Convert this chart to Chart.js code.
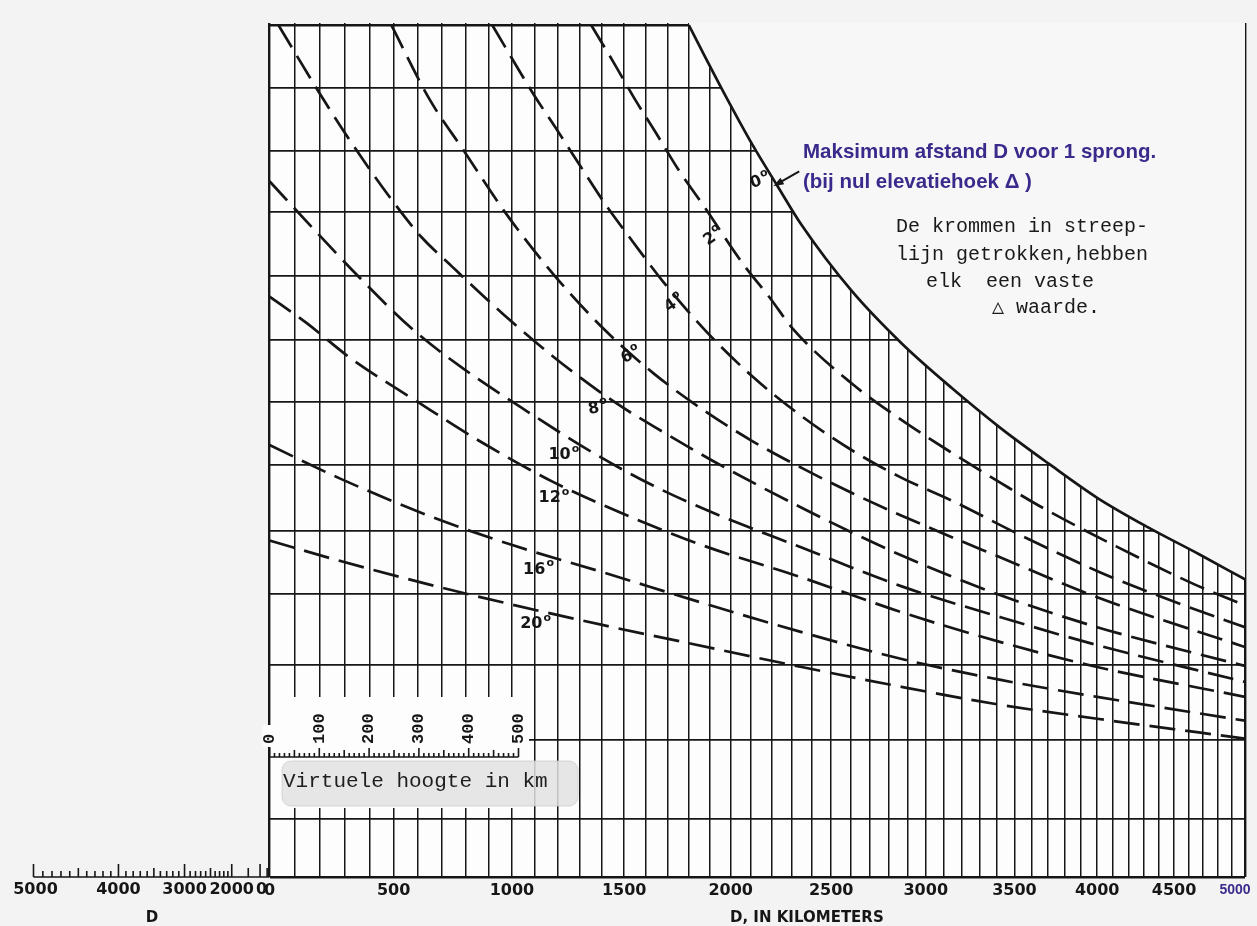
<!DOCTYPE html>
<html>
<head>
<meta charset="utf-8">
<title>Elevatiehoek - afstand - virtuele hoogte</title>
<script src="https://cdn.jsdelivr.net/npm/chart.js@4/dist/chart.umd.min.js"></script>
<style>
  html, body { margin: 0; padding: 0; background: #f3f3f3; }
  #wrap { position: relative; width: 1257px; height: 926px; }
</style>
</head>
<body>
<div id="wrap"><canvas id="chart"></canvas></div>
<script>
// ---- axes ----
const distTicks = [];               // vertical grid, every 100 km
for (let d = 0; d <= 5000; d += 100) distTicks.push(d);
const distLabels = [0, 500, 1000, 1500, 2000, 2500, 3000, 3500, 4000, 4500, 5000];
const heightGrid = [0, 116, 276, 426, 568, 696, 828, 954, 1080, 1208, 1336, 1460, 1586, 1712];
const rulerKm = [0, 100, 200, 300, 400, 500];
const bulgeKm = [0, 2000, 3000, 4000, 5000];

// ---- curves: distance D (km) and height on the chart ----
const dist0 = [1800, 1870, 1985, 2105, 2230, 2350, 2605, 2870, 3145, 3420, 3705, 4000, 4330, 4675, 5000];
const h0    = [1712, 1654, 1562, 1472, 1388, 1310, 1178, 1072, 982, 902, 830, 762, 702, 648, 598];

const dist2 = [1350, 1450, 1550, 1645, 1750, 1875, 2060, 2195, 2305, 2605, 2870, 3145, 3420, 3645, 4110, 4640, 5000];
const h2    = [1712, 1638, 1562, 1496, 1422, 1346, 1232, 1162, 1102, 992, 918, 852, 792, 746, 666, 588, 546];

const dist4 = [915, 1090, 1205, 1305, 1420, 1530, 1680, 1870, 2105, 2350, 2605, 2870, 3145, 3540, 4020, 4565, 5000];
const h4    = [1712, 1576, 1496, 1426, 1348, 1282, 1196, 1102, 1006, 926, 858, 802, 756, 686, 612, 546, 502];

const dist6 = [490, 650, 790, 970, 1180, 1405, 1635, 1870, 2105, 2350, 2605, 2870, 3420, 4000, 5000];
const h6    = [1712, 1562, 1462, 1336, 1212, 1102, 1012, 938, 876, 822, 772, 726, 642, 562, 462];

const dist8 = [35, 195, 305, 475, 615, 745, 960, 1180, 1450, 1680, 1915, 2350, 2870, 3420, 4000, 5000];
const h8    = [1712, 1578, 1492, 1372, 1286, 1226, 1132, 1046, 956, 894, 836, 742, 646, 566, 502, 424];

const dist10 = [0, 175, 365, 575, 790, 1045, 1360, 1635, 1915, 2350, 2870, 3420, 4000, 5000];
const h10    = [1398, 1302, 1202, 1102, 1022, 942, 852, 786, 732, 662, 584, 522, 466, 392];

const dist12 = [0, 145, 325, 595, 875, 1180, 1495, 1855, 2350, 2870, 3420, 4000, 5000];
const h12    = [1166, 1114, 1042, 956, 872, 794, 730, 668, 602, 532, 472, 422, 362];

const dist16 = [0, 275, 645, 995, 1405, 1870, 2350, 2870, 3420, 4000, 5000];
const h16    = [868, 802, 726, 668, 612, 550, 492, 438, 396, 362, 314];

const dist20 = [0, 275, 645, 995, 1405, 1775, 2350, 2870, 3420, 4000, 5000];
const h20    = [676, 636, 588, 548, 506, 472, 422, 382, 346, 318, 278];

// angle labels, placed in chart units
const angleNotes = [
  { t: '0', d: 2141, h: 1398, rot: -20 },
  { t: '2', d: 1915, h: 1286, rot: -35 },
  { t: '4', d: 1729, h: 1152, rot: -35 },
  { t: '6', d: 1528, h: 1048, rot: -25 },
  { t: '8', d: 1379, h: 942, rot: -10 },
  { t: '10', d: 1226, h: 848, rot: 0 },
  { t: '12', d: 1182, h: 762, rot: 0 },
  { t: '16', d: 1114, h: 618, rot: 0 },
  { t: '20', d: 1101, h: 508, rot: 0 }
];

const PAGE_BG = '#f3f3f3';
const INK = '#161616';
const PURPLE = '#3b2a8c';

// distance axis is compressed towards the far end of the chart
const WARP_A = 1.29, WARP_B = 0.3;
class WarpScale extends Chart.LinearScale {
  toFrac(v) {
    const t = (v - this.min) / (this.max - this.min);
    return t * (WARP_A - WARP_B * t) / (WARP_A - WARP_B);
  }
  fromFrac(f) {
    const t = (WARP_A - Math.sqrt(WARP_A * WARP_A - 4 * WARP_B * (WARP_A - WARP_B) * f)) / (2 * WARP_B);
    return this.min + t * (this.max - this.min);
  }
  getPixelForValue(v) {
    return v === null ? NaN : this.getPixelForDecimal(this.toFrac(v));
  }
  getValueForPixel(p) {
    return this.fromFrac(this.getDecimalForPixel(p));
  }
}
WarpScale.id = 'warp';
WarpScale.defaults = Chart.LinearScale.defaults;
Chart.register(WarpScale);

function curve(label, d, h, solid) {
  return {
    label: label,
    data: d.map((x, i) => ({ x: x, y: h[i] })),
    borderColor: INK,
    borderWidth: 2.7,
    borderDash: solid ? [] : [26, 10],
    pointRadius: 0,
    cubicInterpolationMode: 'monotone',
    fill: solid ? 'end' : false,
    backgroundColor: solid ? '#f7f7f7' : 'transparent'
  };
}

function degLabel(ctx, txt, x, y, rot) {
  ctx.save();
  ctx.translate(x, y);
  ctx.rotate(rot * Math.PI / 180);
  ctx.font = 'bold 16px "DejaVu Sans"';
  const w = ctx.measureText(txt).width;
  ctx.font = 'bold 11px "DejaVu Sans"';
  const w2 = ctx.measureText('o').width;
  const x0 = -(w + w2) / 2;
  ctx.fillStyle = INK;
  ctx.textBaseline = 'middle';
  ctx.textAlign = 'left';
  ctx.font = 'bold 16px "DejaVu Sans"';
  ctx.fillText(txt, x0, 0);
  ctx.font = 'bold 11px "DejaVu Sans"';
  ctx.fillText('o', x0 + w + 1, -6);
  ctx.restore();
}

const decor = {
  id: 'decor',
  beforeDraw(chart) {
    const { ctx, chartArea: a } = chart;
    const top = chart.scales.y.getPixelForValue(heightGrid[heightGrid.length - 1]);
    ctx.save();
    ctx.fillStyle = PAGE_BG;
    ctx.fillRect(0, 0, chart.width, chart.height);
    ctx.fillStyle = '#fdfdfd';
    ctx.fillRect(a.left, top, a.right - a.left, a.bottom - top);
    ctx.restore();
  },
  afterDatasetsDraw(chart) {
    const { ctx, chartArea: a } = chart;
    const xs = chart.scales.x, ys = chart.scales.y;
    const left = xs.getPixelForValue(0);
    const base = a.bottom;
    ctx.save();

    // --- virtual height ruler box ---
    const rx = left + 1.5, kmPx = 0.498, rBase = 757;
    ctx.fillStyle = '#fdfdfd';
    ctx.fillRect(rx, 697, 258, 111);
    ctx.fillStyle = 'rgba(226,226,226,0.85)';
    ctx.strokeStyle = 'rgba(200,200,200,0.7)';
    ctx.lineWidth = 1;
    ctx.beginPath();
    ctx.roundRect(282, 761, 296, 45, 9);
    ctx.fill();
    ctx.stroke();
    ctx.fillStyle = '#fdfdfd';
    ctx.fillRect(left - 7, 725, 16, 22);

    ctx.strokeStyle = INK;
    ctx.lineWidth = 1.6;
    ctx.beginPath();
    ctx.moveTo(left, rBase);
    ctx.lineTo(left + 500 * kmPx, rBase);
    for (let k = 0; k <= 500; k += 10) {
      const x = left + k * kmPx;
      const len = k % 100 === 0 ? 9 : (k % 50 === 0 ? 7 : 4);
      ctx.moveTo(x, rBase);
      ctx.lineTo(x, rBase - len);
    }
    ctx.stroke();
    ctx.fillStyle = INK;
    ctx.font = 'bold 17px "Liberation Mono", "DejaVu Sans Mono", monospace';
    ctx.textAlign = 'left';
    ctx.textBaseline = 'middle';
    rulerKm.forEach(k => {
      ctx.save();
      ctx.translate(left + k * kmPx, 744);
      ctx.rotate(-Math.PI / 2);
      ctx.fillText(String(k), 0, 0);
      ctx.restore();
    });
    ctx.font = '21px "Liberation Mono", "DejaVu Sans Mono", monospace';
    ctx.fillStyle = '#1e1e1e';
    ctx.fillText('Virtuele hoogte in km', 283, 781);

    // --- earth bulge scale at lower left ---
    const bulgeSpan = 236;
    const bx = d => left - bulgeSpan * (d / 5000) * (d / 5000);
    ctx.strokeStyle = INK;
    ctx.lineWidth = 1.6;
    ctx.beginPath();
    ctx.moveTo(bx(5000), base);
    ctx.lineTo(left, base);
    for (let d = 500; d <= 5000; d += (d < 2000 ? 500 : 100)) {
      const len = d % 1000 === 0 ? 13 : (d % 500 === 0 ? 9 : 6);
      ctx.moveTo(bx(d), base);
      ctx.lineTo(bx(d), base - len);
    }
    ctx.stroke();
    ctx.fillStyle = INK;
    ctx.font = 'bold 16px "DejaVu Sans"';
    ctx.textAlign = 'center';
    ctx.textBaseline = 'middle';
    bulgeKm.forEach(d => {
      const x = d === 0 ? left - 8 : bx(d) + (d === 5000 ? 2 : 0);
      ctx.fillText(String(d), x, base + 13);
    });
    ctx.font = 'bold 15px "DejaVu Sans"';
    ctx.fillText('D', 152, 918);
    ctx.textAlign = 'left';
    ctx.fillText('D, IN KILOMETERS', 730, 918);

    // purple 5000 at the end of the distance axis
    ctx.fillStyle = PURPLE;
    ctx.font = 'bold 14px "Liberation Sans", Arial, sans-serif';
    ctx.textAlign = 'center';
    ctx.fillText('5000', xs.getPixelForValue(5000) - 10, base + 13);

    // --- angle labels ---
    angleNotes.forEach(n => degLabel(ctx, n.t, xs.getPixelForValue(n.d), ys.getPixelForValue(n.h), n.rot));

    // --- arrow to the 0 degree boundary ---
    const tx = xs.getPixelForValue(2338), ty = ys.getPixelForValue(1418);
    const hx = xs.getPixelForValue(2209), hy = ys.getPixelForValue(1388);
    const ang = Math.atan2(hy - ty, hx - tx);
    ctx.strokeStyle = INK;
    ctx.lineWidth = 2;
    ctx.beginPath();
    ctx.moveTo(tx, ty);
    ctx.lineTo(hx - 6 * Math.cos(ang), hy - 6 * Math.sin(ang));
    ctx.stroke();
    ctx.fillStyle = INK;
    ctx.beginPath();
    ctx.moveTo(hx, hy);
    ctx.lineTo(hx - 11 * Math.cos(ang - 0.35), hy - 11 * Math.sin(ang - 0.35));
    ctx.lineTo(hx - 11 * Math.cos(ang + 0.35), hy - 11 * Math.sin(ang + 0.35));
    ctx.closePath();
    ctx.fill();

    // --- notes ---
    ctx.fillStyle = PURPLE;
    ctx.font = 'bold 20.5px "Liberation Sans", Arial, sans-serif';
    ctx.textAlign = 'left';
    ctx.fillText('Maksimum afstand D voor 1 sprong.', 803, 152);
    ctx.fillText('(bij nul elevatiehoek \u0394 )', 803, 182);

    ctx.fillStyle = '#1a1a1a';
    ctx.font = '20px "Liberation Mono", "DejaVu Sans Mono", monospace';
    ctx.fillText('De krommen in streep-', 896, 227);
    ctx.fillText('lijn getrokken,hebben', 896, 255);
    ctx.fillText('elk  een vaste', 926, 282);
    ctx.fillText('\u25B3 waarde.', 992, 308);

    ctx.restore();
  }
};

new Chart(document.getElementById('chart'), {
  type: 'line',
  data: {
    datasets: [
      curve('20°', dist20, h20, false),
      curve('16°', dist16, h16, false),
      curve('12°', dist12, h12, false),
      curve('10°', dist10, h10, false),
      curve('8°', dist8, h8, false),
      curve('6°', dist6, h6, false),
      curve('4°', dist4, h4, false),
      curve('2°', dist2, h2, false),
      curve('0°', dist0, h0, true)
    ]
  },
  options: {
    responsive: true,
    maintainAspectRatio: false,
    animation: false,
    events: [],
    layout: { padding: { left: 269.5, right: 12, top: 23, bottom: 21.8 } },
    scales: {
      x: {
        type: 'warp',
        min: 0,
        max: 5000,
        afterBuildTicks: s => { s.ticks = distTicks.map(value => ({ value })); },
        grid: {
          color: INK,
          lineWidth: c => (c.tick && (c.tick.value === 0 || c.tick.value === 5000)) ? 2.4 : 1.5,
          drawTicks: false
        },
        border: { display: false },
        ticks: {
          autoSkip: false,
          maxRotation: 0,
          padding: 4,
          color: INK,
          font: { family: 'DejaVu Sans', weight: 'bold', size: 16 },
          callback: v => (distLabels.includes(v) && v !== 5000) ? String(v) : ''
        }
      },
      y: {
        type: 'linear',
        min: 0,
        max: 1716,
        afterBuildTicks: s => { s.ticks = heightGrid.map(value => ({ value })); },
        grid: {
          color: INK,
          lineWidth: c => (c.tick && (c.tick.value === 0 || c.tick.value === 1712)) ? 2.4 : 1.7,
          drawTicks: false
        },
        border: { display: false },
        ticks: { display: false }
      }
    },
    plugins: {
      legend: { display: false },
      tooltip: { enabled: false }
    }
  },
  plugins: [decor]
});
</script>
</body>
</html>
